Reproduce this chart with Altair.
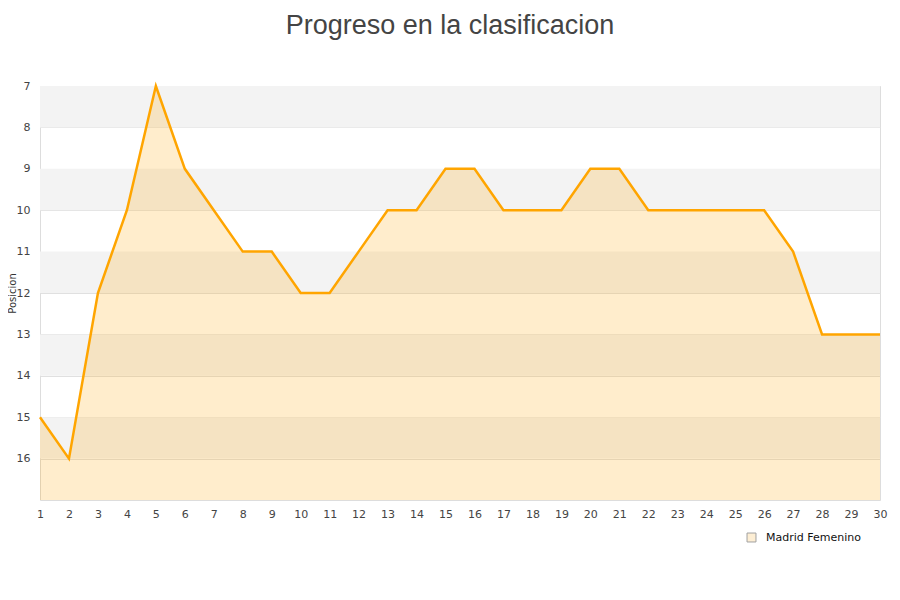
import altair as alt
import pandas as pd

jornadas = list(range(1, 31))
posiciones = [15, 16, 12, 10, 7, 9, 10, 11, 11, 12, 12, 11, 10, 10, 9,
              9, 10, 10, 10, 9, 9, 10, 10, 10, 10, 10, 11, 13, 13, 13]
equipo = "Madrid Femenino"
band_starts = [7, 9, 11, 13, 15]

df = pd.DataFrame({"Jornada": jornadas, "Posicion": posiciones, "Equipo": equipo})
bands = pd.DataFrame({"y0": band_starts, "y1": [b + 1 for b in band_starts]})

yscale = alt.Scale(domain=[7, 17], reverse=True, nice=False, zero=False)
xscale = alt.Scale(domain=[1, 30], nice=False, zero=False)

xaxis = alt.Axis(values=jornadas, title=None, tickSize=0, labelPadding=8,
                 grid=False, domain=False, labelFontSize=11,
                 labelColor="#444", labelFont="DejaVu Sans",
                 labelFlush=False, labelOverlap=False)
yaxis = alt.Axis(values=list(range(7, 17)), title="Posicion", tickSize=0,
                 labelPadding=10, grid=True, gridColor="#e0e0e0",
                 domain=False, labelFontSize=11, labelColor="#444",
                 labelFont="DejaVu Sans", labelOverlap=False,
                 titleFont="DejaVu Sans",
                 titleFontSize=10, titleFontWeight="normal",
                 titleColor="#333", titleX=-23)

band_layer = alt.Chart(bands).mark_rect(color="#f3f3f3").encode(
    y=alt.Y("y0:Q", scale=yscale, axis=yaxis),
    y2="y1:Q",
    x=alt.value(0),
    x2=alt.value(840),
)

area = alt.Chart(df).mark_area(color="#FFA500", fillOpacity=0.2, interpolate="linear").encode(
    x=alt.X("Jornada:Q", scale=xscale, axis=xaxis),
    y=alt.Y("Posicion:Q", scale=yscale, axis=yaxis),
    y2=alt.datum(17),
)

legend_layer = alt.Chart(df).mark_square(filled=True, stroke="#8c8c8c", strokeWidth=1,
                                         size=0).encode(
    x=alt.X("Jornada:Q", scale=xscale, axis=xaxis),
    y=alt.Y("Posicion:Q", scale=yscale, axis=yaxis),
    color=alt.Color("Equipo:N", scale=alt.Scale(range=["#fde8c2"]),
                    legend=alt.Legend(title=None, orient="none", legendX=706, legendY=446,
                                      symbolType="square", symbolSize=80,
                                      symbolStrokeColor="#7a7a7a", symbolStrokeWidth=1,
                                      labelOffset=9,
                                      labelFontSize=11, labelColor="#111",
                                      labelFont="DejaVu Sans")),
)

line = alt.Chart(df).mark_line(color="#FFA500", strokeWidth=2.5).encode(
    x=alt.X("Jornada:Q", scale=xscale, axis=xaxis),
    y=alt.Y("Posicion:Q", scale=yscale, axis=yaxis),
)

chart = alt.layer(band_layer, area, line, legend_layer).properties(
    width=840,
    height=414,
    title=alt.TitleParams("Progreso en la clasificacion", font="Liberation Sans",
                          fontSize=27, fontWeight="normal", color="#444",
                          anchor="middle", offset=40, dx=-10),
    autosize=alt.AutoSizeParams(type="none"),
    padding={"left": 32, "top": 78, "right": 12, "bottom": 70},
).configure_view(stroke="#d8d8d8").configure_axis(
    labelOverlap=False
).configure(background="white")

chart.save("out.html", embed_options={"renderer": "svg", "actions": False})
